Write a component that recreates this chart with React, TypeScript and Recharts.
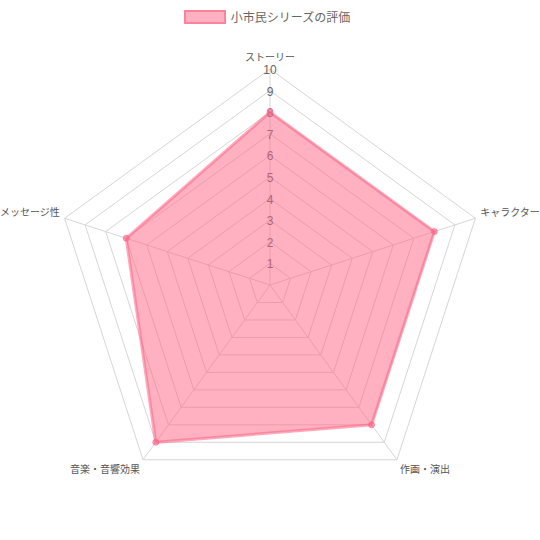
import { RadarChart, Radar, PolarGrid, PolarAngleAxis, PolarRadiusAxis, Legend } from "recharts";

const categories = ["ストーリー", "キャラクター", "作画・演出", "音楽・音響効果", "メッセージ性"];
const scores = [8, 8, 8, 9, 7];
const seriesName = "小市民シリーズの評価";
const radiusTicks = [0, 1, 2, 3, 4, 5, 6, 7, 8, 9, 10];

const CX = 270;
const CY = 285;
const R = 216;
const FONT = "'Liberation Sans', Arial, 'Noto Sans CJK JP', sans-serif";
const PINK = "rgb(255,99,132)";

const data = categories.map((c, i) => ({ subject: c, score: scores[i] }));

function AngleTick(props: any) {
  const deg = props.payload.coordinate;
  const rad = (deg * Math.PI) / 180;
  const cos = Math.cos(rad);
  const sin = Math.sin(rad);
  const x = CX + (R + 5) * cos;
  const y = CY - (R + 5) * sin;
  const anchor = cos > 0.1 ? "start" : cos < -0.1 ? "end" : "middle";
  const top = sin > 0.9;
  const dy = top ? -7 : sin > 0 ? -4 : 5.5;
  return (
    <text x={x} y={y + dy} textAnchor={anchor} dominantBaseline="central" fontSize={10} fill="#555" fontFamily={FONT}>
      {props.payload.value}
    </text>
  );
}

// tick labels sit under the translucent fill in the original, so the ones inside it look pinkish
function RadiusTick(props: any) {
  const v = props.payload.value;
  if (v === 0) return null;
  const covered = v <= scores[0];
  return (
    <text x={props.x} y={props.y + 1} textAnchor="middle" dominantBaseline="central" fontSize={12} fill={covered ? "rgb(178,100,117)" : "#666"} fontFamily={FONT}>
      {v}
    </text>
  );
}

function LegendContent() {
  return (
    <div style={{ display: "flex", justifyContent: "center", alignItems: "center", fontFamily: FONT, fontSize: 12, color: "#666", marginLeft: -6 }}>
      <span style={{ display: "inline-block", width: 38, height: 10, background: "rgba(255,99,132,0.5)", border: "2px solid rgba(255,99,132,0.6)", marginRight: 5 }} />
      <span>{seriesName}</span>
    </div>
  );
}

export default function App() {
  return (
    <div style={{ position: "absolute", left: 0, top: 0, width: 540, height: 540, background: "#fff" }}>
      <RadarChart width={540} height={540} data={data} cx={CX} cy={CY} outerRadius={R} margin={{ top: 0, right: 0, bottom: 0, left: 0 }}>
        <Legend verticalAlign="top" align="center" content={<LegendContent />} wrapperStyle={{ top: 8 }} />
        <PolarGrid gridType="polygon" stroke="#d6d6d6" strokeWidth={1} />
        <PolarAngleAxis dataKey="subject" tick={<AngleTick />} tickLine={false} axisLine={false} />
        <PolarRadiusAxis angle={90} domain={[0, 10]} ticks={radiusTicks as any} tickCount={11} axisLine={false} tick={<RadiusTick />} />
        <Radar
          name={seriesName}
          dataKey="score"
          stroke={PINK}
          strokeOpacity={0.55}
          strokeWidth={3}
          fill={PINK}
          fillOpacity={0.5}
          dot={{ r: 3, fill: PINK, fillOpacity: 0.6, stroke: PINK, strokeOpacity: 0.6, strokeWidth: 1 }}
          isAnimationActive={false}
        />
      </RadarChart>
    </div>
  );
}
